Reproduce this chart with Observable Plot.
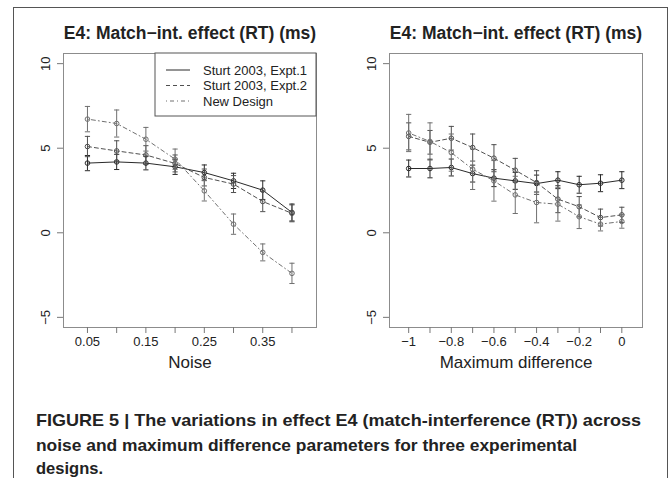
<!DOCTYPE html>
<html><head><meta charset="utf-8">
<script src="https://cdn.jsdelivr.net/npm/d3@7"></script>
<script src="https://cdn.jsdelivr.net/npm/@observablehq/plot@0.6"></script>
<style>
body{margin:0;background:#fff;}
#wrap{position:relative;width:669px;height:478px;overflow:hidden;font-family:"Liberation Sans",Arial,sans-serif;background:#fff;}
.panel{position:absolute;top:0;}
#frame{position:absolute;left:13px;top:7px;width:653px;height:500px;border-left:1.5px solid #555;border-top:1.5px solid #555;border-right:1.5px solid #555;pointer-events:none;}
#caption{position:absolute;left:0;top:0;}
</style>
</head><body>
<div id="wrap"></div>
<script>
// ---------- data ----------
const seriesNames = ["Sturt 2003, Expt.1", "Sturt 2003, Expt.2", "New Design"];
const title = "E4: Match\u2212int. effect (RT) (ms)";

const noise = [0.05, 0.10, 0.15, 0.20, 0.25, 0.30, 0.35, 0.40];
const noiseExpt1 = [4.12, 4.19, 4.12, 3.90, 3.56, 3.07, 2.52, 1.20];
const noiseExpt1Err = [0.45, 0.45, 0.40, 0.45, 0.45, 0.45, 0.55, 0.50];
const noiseExpt2 = [5.10, 4.84, 4.60, 4.10, 3.27, 2.88, 1.85, 1.15];
const noiseExpt2Err = [0.60, 0.60, 0.55, 0.50, 0.50, 0.50, 0.60, 0.50];
const noiseNew = [6.72, 6.46, 5.53, 4.35, 2.48, 0.51, -1.16, -2.40];
const noiseNewErr = [0.75, 0.80, 0.70, 0.60, 0.60, 0.60, 0.50, 0.60];
const noiseTicks = [0.05, 0.10, 0.15, 0.20, 0.25, 0.30, 0.35, 0.40];
const noiseTickLabels = ["0.05", "", "0.15", "", "0.25", "", "0.35", ""];

const maxDiff = [-1.0, -0.9, -0.8, -0.7, -0.6, -0.5, -0.4, -0.3, -0.2, -0.1, 0.0];
const mdExpt1 = [3.80, 3.80, 3.86, 3.50, 3.23, 3.07, 2.91, 3.11, 2.84, 2.93, 3.11];
const mdExpt1Err = [0.50, 0.55, 0.50, 0.50, 0.50, 0.50, 0.50, 0.50, 0.50, 0.50, 0.50];
const mdExpt2 = [5.70, 5.35, 5.59, 5.04, 4.41, 3.70, 2.97, 1.99, 1.54, 0.90, 1.06];
const mdExpt2Err = [0.80, 0.70, 0.70, 0.80, 0.80, 0.70, 0.70, 0.80, 0.60, 0.50, 0.45];
const mdNew = [5.90, 5.40, 4.74, 3.76, 3.07, 2.24, 1.79, 1.69, 0.95, 0.51, 0.67];
const mdNewErr = [1.10, 1.10, 1.10, 1.20, 1.20, 1.10, 1.20, 1.00, 0.70, 0.40, 0.40];
const maxDiffTicks = [-1.0, -0.9, -0.8, -0.7, -0.6, -0.5, -0.4, -0.3, -0.2, -0.1, 0.0];
const maxDiffTickLabels = ["\u22121", "", "\u22120.8", "", "\u22120.6", "", "\u22120.4", "", "\u22120.2", "", "0"];

const yTicks = [-5, 0, 5, 10];
const yTickLabels = ["\u22125", "0", "5", "10"];

const captionLines = [
  "FIGURE 5 | The variations in effect E4 (match-interference (RT)) across",
  "noise and maximum difference parameters for three experimental",
  "designs."
];

// ---------- styles ----------
const colors = ["#2a2a2a", "#505050", "#707070"];
const dashes = ["none", "4,3", "1,3,4,3"];
const FONT = "'Liberation Sans', Arial, sans-serif";
const cap = { draw(ctx, size) { const w = Math.sqrt(size / Math.PI); ctx.moveTo(-w, 0); ctx.lineTo(w, 0); } };

function rowsFor(xs, ys, errs, s) {
  return xs.map((x, i) => ({ x, y: ys[i], lo: ys[i] - errs[i], hi: ys[i] + errs[i], s }));
}

function panel(opts) {
  const { xs, series, domain, ticks, tickLabels, xlabel, width, mL, mR, legend } = opts;
  const all = series.flatMap((p, k) => rowsFor(xs, p[0], p[1], k));
  const marks = [Plot.frame({ stroke: "#8c8c8c" })];
  series.forEach((p, k) => {
    const rows = all.filter(d => d.s === k);
    marks.push(
      Plot.ruleX(rows, { x: "x", y1: "lo", y2: "hi", stroke: colors[k], strokeWidth: 1 }),
      Plot.dot(rows, { x: "x", y: "hi", symbol: cap, r: 2.6, stroke: colors[k], strokeWidth: 1 }),
      Plot.dot(rows, { x: "x", y: "lo", symbol: cap, r: 2.6, stroke: colors[k], strokeWidth: 1 }),
      Plot.line(rows, { x: "x", y: "y", stroke: colors[k], strokeWidth: 1, strokeDasharray: dashes[k] }),
      Plot.dot(rows, { x: "x", y: "y", r: 2.3, stroke: colors[k], strokeWidth: 1, fill: "none" })
    );
  });
  marks.push(
    Plot.axisX({ ticks, tickFormat: d => tickLabels[ticks.indexOf(d)] ?? "", tickSize: 6, tickPadding: 3, fontSize: 13, stroke: "#777", fill: "#222", label: null }),
    Plot.axisY({ ticks: yTicks, tickFormat: () => "", tickSize: 6, stroke: "#777", label: null }),
    Plot.text(yTicks, { y: d => d, text: (d, i) => yTickLabels[i], frameAnchor: "left", dx: -18, rotate: -90, textAnchor: "middle", lineAnchor: "middle", fontSize: 13, fill: "#222" }),
    Plot.text([xlabel], { text: d => d, frameAnchor: "bottom", lineAnchor: "middle", dy: 35, fontSize: 17, fill: "#222" }),
    Plot.text([title], { text: d => d, frameAnchor: "top", lineAnchor: "middle", dy: -20, fontSize: 17.5, fontWeight: "bold", fill: "#222" })
  );
  const chart = Plot.plot({
    width, height: 380, marginLeft: mL, marginRight: mR, marginTop: 53, marginBottom: 53,
    x: { domain, axis: null },
    y: { domain: [-5.6, 10.6], axis: null },
    style: { fontFamily: FONT, background: "transparent", overflow: "visible" },
    marks
  });
  if (legend) {
    const svg = d3.select(chart);
    const right = width - mR, top = 53, lw = 161, lh = 63;
    const g = svg.append("g").attr("text-anchor", "start");
    g.append("rect").attr("x", right - lw).attr("y", top).attr("width", lw).attr("height", lh)
      .attr("fill", "white").attr("stroke", "#555").attr("stroke-width", 1);
    seriesNames.forEach((name, k) => {
      const yy = top + 17 + k * 15.5;
      g.append("line").attr("x1", right - lw + 11).attr("x2", right - lw + 35).attr("y1", yy).attr("y2", yy)
        .attr("stroke", colors[k]).attr("stroke-width", 1).attr("stroke-dasharray", dashes[k]);
      g.append("text").attr("x", right - lw + 48).attr("y", yy).attr("dy", "0.35em")
        .attr("text-anchor", "start")
        .attr("font-size", 13).attr("fill", "#222").attr("font-family", FONT).text(name);
    });
  }
  return chart;
}

const wrap = document.getElementById("wrap");
const left = panel({
  xs: noise, series: [[noiseExpt1, noiseExpt1Err], [noiseExpt2, noiseExpt2Err], [noiseNew, noiseNewErr]],
  domain: [0.009, 0.442], ticks: noiseTicks, tickLabels: noiseTickLabels, xlabel: "Noise",
  width: 334, mL: 63, mR: 18, legend: true
});
const rightP = panel({
  xs: maxDiff, series: [[mdExpt1, mdExpt1Err], [mdExpt2, mdExpt2Err], [mdNew, mdNewErr]],
  domain: [-1.09, 0.097], ticks: maxDiffTicks, tickLabels: maxDiffTickLabels, xlabel: "Maximum difference",
  width: 335, mL: 55, mR: 27, legend: false
});
left.classList.add("panel"); left.style.left = "0px";
rightP.classList.add("panel"); rightP.style.left = "334px";
wrap.appendChild(left); wrap.appendChild(rightP);

// caption
const capSvg = d3.select(wrap).append("svg").attr("id", "caption").attr("width", 669).attr("height", 478);
const capLens = [605, 541, 67];
const capY = [426, 450.5, 473.5];
captionLines.forEach((t, i) => {
  capSvg.append("text").attr("x", 36).attr("y", capY[i]).attr("font-family", FONT)
    .attr("font-weight", "bold").attr("font-size", 17).attr("fill", "#222")
    .attr("textLength", capLens[i]).attr("lengthAdjust", "spacingAndGlyphs").text(t);
});
const fr = document.createElement("div"); fr.id = "frame"; wrap.appendChild(fr);
</script>
</body></html>
